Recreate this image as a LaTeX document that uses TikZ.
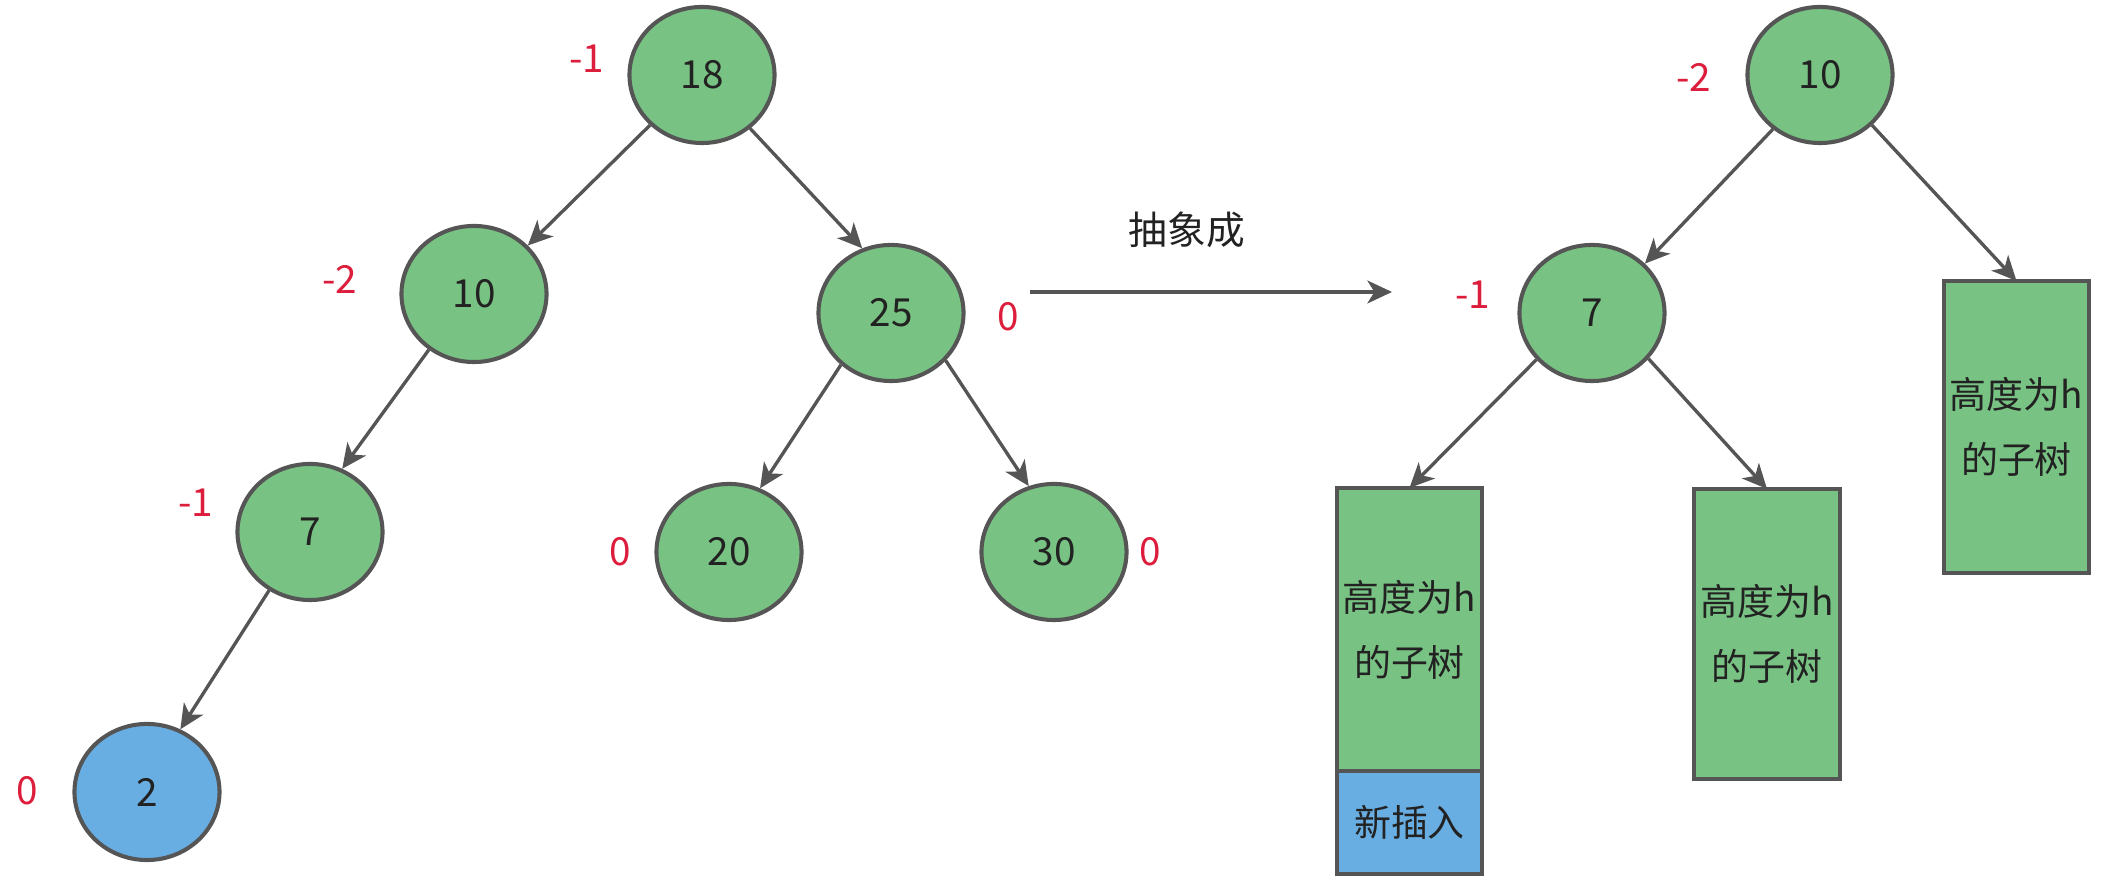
\documentclass[tikz,border=0pt]{standalone}
\usepackage{fontspec}
\setmainfont{Noto Sans CJK SC}
\usetikzlibrary{positioning,arrows.meta,shapes.geometric}
\definecolor{cnode}{HTML}{78C283}
\definecolor{cnew}{HTML}{68AEE2}
\definecolor{cline}{HTML}{555555}
\definecolor{cbal}{HTML}{DC1E3C}
\definecolor{ctxt}{HTML}{222222}
\tikzset{
  avl/.style={ellipse, draw=cline, fill=cnode, line width=1.15pt,
              minimum width=1.45cm, minimum height=1.36cm, inner sep=0pt,
              font=\fontsize{11}{13}\selectfont, text=ctxt},
  ins/.style={avl, fill=cnew},
  sub/.style={rectangle, draw=cline, fill=cnode, line width=1.15pt, outer sep=0pt,
              minimum width=1.45cm, inner sep=0pt, align=center,
              font=\fontsize{10.5}{18.5}\selectfont, text=ctxt},
  insbox/.style={sub, fill=cnew},
  bal/.style={text=cbal, font=\fontsize{11}{13}\selectfont, inner sep=0pt},
  flow/.style={-{Stealth[length=7pt,width=6.5pt,inset=2pt]}, line width=0.95pt, draw=cline}
}

\begin{document}
\begin{tikzpicture}[x=0.01cm, y=-0.01cm]
\useasboundingbox (0,0) rectangle (2105,883);
% left tree
\node[avl] (n18) at (702,75) {18};
\node[avl] (n10) at (474,294) {10};
\node[avl] (n25) at (891,313) {25};
\node[avl] (n7) at (310,532) {7};
\node[avl] (n20) at (729,552) {20};
\node[avl] (n30) at (1054,552) {30};
\node[ins] (n2) at (147,792) {2};
\node[bal] (b18) at (587,59) {-1};
\node[bal] (b10) at (340,279) {-2};
\node[bal] (b25) at (1008,317) {0};
\node[bal] (b7) at (196,503) {-1};
\node[bal] (b20) at (620,552) {0};
\node[bal] (b30) at (1150,552) {0};
\node[bal] (b2) at (27,791) {0};
\draw[flow] (n18.224)--(n10.42); \draw[flow] (n18.312)--(n25.114);
\draw[flow] (n10.231)--(n7.63); \draw[flow] (n7.235)--(n2.62);
\draw[flow] (n25.226)--(n20.64); \draw[flow] (n25.319)--(n30.111);
% abstraction arrow
\coordinate (absA) at (1030,292);
\coordinate (absB) at (1392,292);
\node[font=\fontsize{11}{13}\selectfont, text=ctxt] (abs) at (1187,230) {抽象成};
\draw[flow] (absA)--(absB);
% right tree
\node[avl] (r10) at (1820,75) {10};
\node[avl] (r7) at (1592,313) {7};
\node[bal] (rb10) at (1694,77) {-2};
\node[bal] (rb7) at (1473,295) {-1};
\node[sub, minimum height=2.83cm] (tl) at (1409.5,629.5) {高度为h\\的子树};
\node[insbox, minimum height=1.03cm, below=0pt of tl] (tnew) {新插入};
\node[sub, minimum height=2.90cm] (tm) at (1767,634) {高度为h\\的子树};
\node[sub, minimum height=2.92cm] (tr) at (2016.5,427) {高度为h\\的子树};
\draw[flow] (r10.229)--(r7.43); \draw[flow] (r10.316)--(tr.north);
\draw[flow] (r7.220)--(tl.north); \draw[flow] (r7.321)--(tm.north);
\end{tikzpicture}
\end{document}
